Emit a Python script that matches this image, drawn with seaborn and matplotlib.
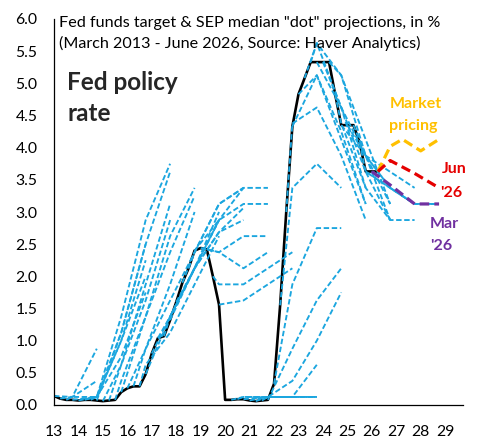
import numpy as np
import pandas as pd
import seaborn as sns
import matplotlib.pyplot as plt

sns.set_theme(style="white")
plt.rcParams['font.family'] = ['Lato', 'DejaVu Sans']

# ---- actual fed funds rate, quarterly points 2013Q1 .. 2026Q2 ----
rate_2013 = [0.14, 0.10, 0.08, 0.08]
rate_2014 = [0.07, 0.08, 0.08, 0.07]
rate_2015 = [0.06, 0.07, 0.08, 0.20]
rate_2016 = [0.26, 0.29, 0.29, 0.48]
rate_2017 = [0.80, 1.04, 1.07, 1.32]
rate_2018 = [1.60, 1.90, 2.12, 2.40]
rate_2019 = [2.44, 2.42, 2.00, 1.56]
rate_2020 = [0.08, 0.08, 0.09, 0.09]
rate_2021 = [0.07, 0.06, 0.07, 0.08]
rate_2022 = [0.33, 1.55, 3.00, 4.33]
rate_2023 = [4.83, 5.08, 5.33, 5.33]
rate_2024 = [5.33, 5.33, 4.83, 4.35]
rate_2025 = [4.35, 4.35, 4.08, 3.63]
rate_2026 = [3.63, 3.63]

# ---- SEP median projections (year-end values, from meeting year end) ----
sep_2013 = {"Mar": [0.125, 0.375], "Jun": [0.125, 0.875],
            "Sep": [0.125, 0.125, 1.0, 2.0], "Dec": [0.125, 0.75, 1.75]}
sep_2014 = {"Mar": [0.125, 1.0, 2.25], "Jun": [0.125, 1.125, 2.5],
            "Sep": [0.125, 1.375, 2.875, 3.75], "Dec": [1.125, 2.5, 3.625]}
sep_2015 = {"Mar": [0.625, 1.875, 3.125], "Jun": [0.625, 1.625, 2.875],
            "Sep": [0.375, 1.375, 2.625, 3.375], "Dec": [1.375, 2.375, 3.25]}
sep_2016 = {"Mar": [0.875, 1.875, 3.0], "Jun": [0.875, 1.625, 2.375],
            "Sep": [0.625, 1.125, 1.875, 2.625], "Dec": [1.375, 2.125, 2.875]}
sep_2017 = {"Mar": [1.375, 2.125, 3.0], "Jun": [1.375, 2.125, 2.875],
            "Sep": [1.375, 2.125, 2.6875, 2.875], "Dec": [2.125, 2.6875, 3.0625]}
sep_2018 = {"Mar": [2.125, 2.875, 3.375], "Jun": [2.375, 3.125, 3.375],
            "Sep": [2.375, 3.125, 3.375, 3.375], "Dec": [2.875, 3.125, 3.125]}
sep_2019 = {"Mar": [2.375, 2.625, 2.625], "Jun": [2.375, 2.125, 2.375],
            "Sep": [1.875, 1.875, 2.125, 2.375], "Dec": [1.625, 1.875, 2.125]}
sep_2020 = {"Jun": [0.125, 0.125, 0.125], "Sep": [0.125, 0.125, 0.125, 0.125],
            "Dec": [0.125, 0.125, 0.125]}
sep_2021 = {"Mar": [0.125, 0.125, 0.125], "Jun": [0.125, 0.125, 0.625],
            "Sep": [0.125, 0.375, 1.0, 1.75], "Dec": [0.875, 1.625, 2.125]}
sep_2022 = {"Mar": [1.875, 2.75, 2.75], "Jun": [3.375, 3.75, 3.375],
            "Sep": [4.375, 4.625, 3.875, 2.875], "Dec": [5.125, 4.125, 3.125]}
sep_2023 = {"Mar": [5.125, 4.25, 3.125], "Jun": [5.625, 4.625, 3.375],
            "Sep": [5.625, 5.125, 3.875, 2.875], "Dec": [4.625, 3.625, 2.875]}
sep_2024 = {"Mar": [4.625, 3.875, 3.125], "Jun": [5.125, 4.125, 3.125],
            "Sep": [4.375, 3.375, 2.875, 2.875], "Dec": [3.875, 3.375, 3.125]}
sep_2025 = {"Mar": [3.875, 3.375, 3.125], "Jun": [3.875, 3.625, 3.375],
            "Sep": [3.625, 3.375, 3.125, 3.125], "Dec": [3.375, 3.125, 3.125]}

# highlighted 2026 projections and market pricing
mar26_vals = [3.63, 3.42, 3.125, 3.125]
jun26_vals = [3.63, 3.80, 3.60, 3.375]
market_x = [26.25, 26.75, 27.25, 28.0, 28.75]
market_vals = [3.63, 4.02, 4.13, 3.95, 4.13]

# ---------------- build frames ----------------
actual = (rate_2013 + rate_2014 + rate_2015 + rate_2016 + rate_2017 + rate_2018 +
          rate_2019 + rate_2020 + rate_2021 + rate_2022 + rate_2023 + rate_2024 +
          rate_2025 + rate_2026)
qpos = 13 + 0.25 * np.arange(len(actual))
act_df = pd.DataFrame({"x": qpos, "rate": actual})

qoff = {"Mar": 0, "Jun": 1, "Sep": 2, "Dec": 3}
rows = []
sep_years = {13: sep_2013, 14: sep_2014, 15: sep_2015, 16: sep_2016, 17: sep_2017,
             18: sep_2018, 19: sep_2019, 20: sep_2020, 21: sep_2021, 22: sep_2022,
             23: sep_2023, 24: sep_2024, 25: sep_2025}
for yy, seps in sep_years.items():
    for mon, vals in seps.items():
        idx = (yy - 13) * 4 + qoff[mon]
        sid = f"{mon}{yy}"
        rows.append((qpos[idx], actual[idx], sid))
        first = yy + (1 if mon == "Dec" else 0)
        for k, v in enumerate(vals):
            rows.append((first + k + 0.75, v, sid))
sep_df = pd.DataFrame(rows, columns=["x", "rate", "sep"])

mar26_df = pd.DataFrame({"x": [26.0, 26.75, 27.75, 28.75], "rate": mar26_vals})
jun26_df = pd.DataFrame({"x": [26.25, 26.75, 27.75, 28.75], "rate": jun26_vals})
mkt_df = pd.DataFrame({"x": market_x, "rate": market_vals})

# ---------------- figure ----------------
W, H = 482, 447
fig = plt.figure(figsize=(W / 100, H / 100), dpi=100)
ax = fig.add_axes([54 / W, 1 - 405 / H, (463 - 54) / W, (405 - 19) / H])

blue = "#1BA6DF"
sns.lineplot(data=act_df, x="x", y="rate", color="black", lw=1.9, ax=ax, sort=False)
sns.lineplot(data=sep_df, x="x", y="rate", units="sep", estimator=None, sort=False,
             color=blue, lw=1.35, linestyle=(0, (2.9, 1.4)), ax=ax)
sns.lineplot(data=mkt_df, x="x", y="rate", color="#FFC000", lw=2.3,
             linestyle=(0, (3.0, 1.6)), ax=ax, sort=False)
sns.lineplot(data=jun26_df, x="x", y="rate", color="#E50000", lw=2.3,
             linestyle=(0, (3.0, 1.6)), ax=ax, sort=False)
sns.lineplot(data=mar26_df, x="x", y="rate", color="#7030A0", lw=2.3,
             linestyle=(0, (3.0, 1.6)), ax=ax, sort=False)

ax.set_xlim(13, 29.73)
ax.set_ylim(0, 6)
ax.set_xticks(range(13, 30))
ax.set_xticklabels([str(i) for i in range(13, 30)])
ax.set_yticks(np.arange(0, 6.01, 0.5))
ax.set_yticklabels([f"{v:.1f}" for v in np.arange(0, 6.01, 0.5)])
ax.set_xlabel("")
ax.set_ylabel("")
for s in ["top", "right"]:
    ax.spines[s].set_visible(False)
for s in ["left", "bottom"]:
    ax.spines[s].set_color("black")
    ax.spines[s].set_linewidth(0.9)
ax.tick_params(axis="both", which="major", direction="out", length=4, width=0.9,
               color="black", labelsize=11.3, labelcolor="black")
ax.tick_params(axis="y", pad=8)
ax.tick_params(axis="x", pad=10.5)

ax.text(13.2, 5.88, 'Fed funds target & SEP median "dot" projections, in %',
        fontsize=11.6, color="black", va="baseline", ha="left")
ax.text(13.2, 5.55, "(March 2013 - June 2026, Source: Haver Analytics)",
        fontsize=11.6, color="black", va="baseline", ha="left")
ax.text(13.55, 4.90, "Fed policy", fontsize=17.5, fontweight="bold", va="baseline")
ax.text(13.55, 4.42, "rate", fontsize=17.5, fontweight="bold", va="baseline")
ax.text(26.72, 4.61, "Market", fontsize=11.5, fontweight="bold", color="#FFC000", va="baseline")
ax.text(26.72, 4.28, "pricing", fontsize=11.5, fontweight="bold", color="#FFC000", va="baseline")
ax.text(28.86, 3.60, "Jun", fontsize=11.5, fontweight="bold", color="#E50000", va="baseline")
ax.text(28.78, 3.24, "'26", fontsize=11.5, fontweight="bold", color="#E50000", va="baseline")
ax.text(28.37, 2.75, "Mar", fontsize=11.5, fontweight="bold", color="#7030A0", va="baseline")
ax.text(28.37, 2.41, "'26", fontsize=11.5, fontweight="bold", color="#7030A0", va="baseline")

fig.savefig("out.png", dpi=100)
